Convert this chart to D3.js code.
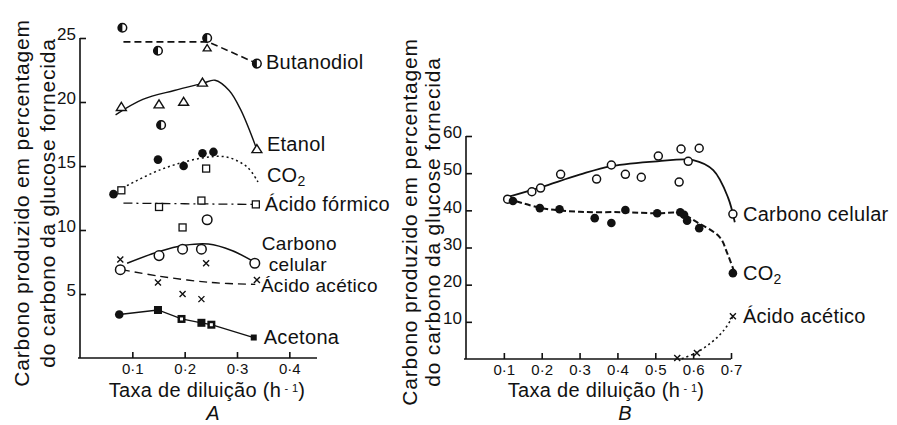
<!DOCTYPE html>
<html>
<head>
<meta charset="utf-8">
<script src="https://cdn.jsdelivr.net/npm/d3@7"></script>
<style>
  body { margin: 0; background: #fff; }
  svg { display: block; }
  text { font-family: "Liberation Sans", Arial, sans-serif; fill: #111; }
</style>
</head>
<body>
<div id="chart"></div>
<script>
// ---- Panel A : points ----
const aButX = [0.081, 0.149, 0.155, 0.243, 0.338];
const aButY = [25.8, 24.0, 18.2, 25.0, 23.0];
const aEtaX = [0.079, 0.151, 0.198, 0.234, 0.243, 0.338];
const aEtaY = [19.6, 19.8, 20.0, 21.5, 24.2, 16.3];
const aCo2X = [0.064, 0.149, 0.198, 0.234, 0.255];
const aCo2Y = [12.8, 15.5, 15.0, 16.0, 16.1];
const aForX = [0.079, 0.151, 0.196, 0.232, 0.241, 0.336];
const aForY = [13.1, 11.8, 10.2, 12.3, 14.8, 12.0];
const aCelX = [0.077, 0.151, 0.196, 0.232, 0.243, 0.334];
const aCelY = [6.9, 8.0, 8.5, 8.5, 10.8, 7.4];
const aAceX = [0.077, 0.149, 0.196, 0.232, 0.241, 0.338];
const aAceY = [7.7, 5.9, 5.0, 4.6, 7.4, 6.1];
const aAcnX = [0.075, 0.149, 0.194, 0.232, 0.251, 0.332];
const aAcnY = [3.4, 3.75, 3.05, 2.75, 2.6, 1.6];
const aAcnShape = ["circle", "square", "squareDot", "square", "squareDot", "squareSmall"];

// hand drawn fitted curves (panel A)
const aButCurve = [[0.083, 24.7], [0.245, 24.7], [0.333, 23.1]];
const aEtaCurve = [[0.068, 19.0], [0.12, 20.2], [0.18, 20.9], [0.234, 21.45], [0.258, 21.7], [0.285, 20.9], [0.307, 19.4], [0.336, 16.5]];
const aCo2Curve = [[0.073, 13.1], [0.153, 14.7], [0.23, 15.6], [0.28, 15.7], [0.32, 14.9], [0.34, 13.75]];
const aForCurve = [[0.083, 12.1], [0.2, 12.05], [0.336, 12.0]];
const aCelCurve = [[0.09, 7.4], [0.15, 8.3], [0.2, 8.8], [0.245, 8.9], [0.29, 8.4], [0.333, 7.5]];
const aAceCurve = [[0.08, 6.9], [0.15, 6.4], [0.25, 5.9], [0.335, 5.75]];

// ---- Panel B ----
const bCelX = [0.11, 0.174, 0.197, 0.25, 0.345, 0.384, 0.421, 0.463, 0.508, 0.563, 0.568, 0.587, 0.616, 0.705];
const bCelY = [43.0, 45.0, 46.0, 49.7, 48.4, 52.2, 49.7, 48.9, 54.6, 47.6, 56.5, 53.2, 56.7, 39.0];
const bCo2X = [0.124, 0.195, 0.247, 0.34, 0.384, 0.421, 0.505, 0.566, 0.576, 0.584, 0.616, 0.705];
const bCo2Y = [42.5, 40.6, 40.3, 37.9, 36.6, 40.1, 39.2, 39.5, 38.8, 37.2, 35.2, 23.1];
const bAceX = [0.558, 0.61, 0.705];
const bAceY = [0.3, 1.6, 11.5];

const bCelCurve = [[0.11, 43.6], [0.197, 46.2], [0.3, 49.6], [0.384, 51.9], [0.505, 53.2], [0.6, 53.5], [0.653, 50.8], [0.692, 43.5], [0.71, 36.8]];
const bCo2Curve = [[0.11, 43.2], [0.2, 40.6], [0.3, 39.6], [0.416, 39.5], [0.503, 39.2], [0.566, 39.2], [0.61, 36.8], [0.67, 32.8], [0.69, 28.5], [0.707, 23.9]];
const bAceCurve = [[0.57, 0.1], [0.61, 1.8], [0.65, 4.6], [0.68, 7.6], [0.705, 11.4]];

const aTicksX = [0.1, 0.2, 0.3, 0.4];
const aTicksY = [5, 10, 15, 20, 25];
const bTicksX = [0.1, 0.2, 0.3, 0.4, 0.5, 0.6, 0.7];
const bTicksY = [10, 20, 30, 40, 50, 60];

const W = 897, H = 425;
const svg = d3.select("#chart").append("svg").attr("width", W).attr("height", H);

const xA = d3.scaleLinear().domain([0, 0.45]).range([80, 315.5]);
const yA = d3.scaleLinear().domain([0, 25]).range([358, 38]);
const xB = d3.scaleLinear().domain([0, 0.7]).range([466, 731]);
const yB = d3.scaleLinear().domain([0, 60]).range([359, 136]);

const fmtX = d => d3.format(".1f")(d).replace(".", "·");

function drawAxes(x, y, xt, yt, xEnd) {
  const gx = svg.append("g").attr("transform", `translate(0,${y(0)})`)
    .call(d3.axisBottom(x).tickValues(xt).tickFormat(fmtX).tickSize(-6).tickSizeOuter(0).tickPadding(5));
  gx.select(".domain").attr("d", `M${x.range()[0] - 2},0H${xEnd}`);
  const gy = svg.append("g").attr("transform", `translate(${x(0)},0)`)
    .call(d3.axisLeft(y).tickValues(yt).tickSize(-6).tickSizeOuter(0).tickPadding(4));
  gy.select(".domain").attr("d", `M0,${y(0)}V${y.range()[1]}`);
  [gx, gy].forEach(g => {
    g.selectAll("path, line").attr("stroke", "#111").attr("stroke-width", 1.6);
    g.selectAll("text").attr("fill", "#111")
      .attr("font-family", "'Liberation Sans', Arial, sans-serif");
  });
  gx.selectAll("text").attr("font-size", 15);
  gy.selectAll("text").attr("font-size", 17).attr("dy", "0.1em");
}
drawAxes(xA, yA, aTicksX, aTicksY, 317);
drawAxes(xB, yB, bTicksX, bTicksY, 731);

// markers
function marker(g, px, py, kind, r) {
  r = r || 4.3;
  if (kind === "filled") {
    g.append("circle").attr("cx", px).attr("cy", py).attr("r", r).attr("fill", "#111");
  } else if (kind === "open") {
    g.append("circle").attr("cx", px).attr("cy", py).attr("r", r).attr("fill", "#fff")
      .attr("stroke", "#111").attr("stroke-width", 1.5);
  } else if (kind === "half") {
    g.append("circle").attr("cx", px).attr("cy", py).attr("r", r).attr("fill", "#fff")
      .attr("stroke", "#111").attr("stroke-width", 1.5);
    g.append("path").attr("d", `M${px},${py - r}A${r},${r} 0 0 0 ${px},${py + r}Z`).attr("fill", "#111");
  } else if (kind === "tri") {
    const s = r * 1.1;
    g.append("path").attr("d", `M${px},${py - s}L${px + s * 1.05},${py + s * 0.7}L${px - s * 1.05},${py + s * 0.7}Z`)
      .attr("fill", "#fff").attr("stroke", "#111").attr("stroke-width", 1.4);
  } else if (kind === "osquare") {
    g.append("rect").attr("x", px - 3.5).attr("y", py - 3.5).attr("width", 7).attr("height", 7)
      .attr("fill", "#fff").attr("stroke", "#111").attr("stroke-width", 1.3);
  } else if (kind === "cross") {
    g.append("path").attr("d", `M${px - 3},${py - 3}L${px + 3},${py + 3}M${px + 3},${py - 3}L${px - 3},${py + 3}`)
      .attr("stroke", "#111").attr("stroke-width", 1.4);
  } else if (kind === "circle") {
    g.append("circle").attr("cx", px).attr("cy", py).attr("r", 4.3).attr("fill", "#111");
  } else if (kind === "square" || kind === "squareDot" || kind === "squareSmall") {
    const s = kind === "squareSmall" ? 6 : 8;
    g.append("rect").attr("x", px - s / 2).attr("y", py - s / 2).attr("width", s).attr("height", s).attr("fill", "#111");
    if (kind === "squareDot") {
      g.append("rect").attr("x", px - 1.5).attr("y", py - 1.5).attr("width", 3).attr("height", 3).attr("fill", "#fff");
    }
  }
}

function curve(data, x, y, dash, width, interp) {
  const line = d3.line().x(d => x(d[0])).y(d => y(d[1])).curve(interp || d3.curveCatmullRom);
  svg.append("path").attr("d", line(data)).attr("fill", "none").attr("stroke", "#111")
    .attr("stroke-width", width || 1.4).attr("stroke-dasharray", dash || null);
}

// panel A lines
curve(aButCurve, xA, yA, "7,4", 1.6, d3.curveLinear);
curve(aEtaCurve, xA, yA, null, 1.4);
curve(aCo2Curve, xA, yA, "2,3", 1.5);
curve(aForCurve, xA, yA, "9,4,2,4", 1.3, d3.curveLinear);
curve(aCelCurve, xA, yA, null, 1.5);
curve(aAceCurve, xA, yA, "8,5", 1.4);
curve(aAcnX.map((v, i) => [v, aAcnY[i]]), xA, yA, null, 1.3, d3.curveLinear);

// panel B lines
curve(bCelCurve, xB, yB, null, 1.8);
curve(bCo2Curve, xB, yB, "6,3", 2);
curve(bAceCurve, xB, yB, "2,3", 1.6);

const gm = svg.append("g");
aButX.forEach((v, i) => marker(gm, xA(v), yA(aButY[i]), "half"));
aEtaX.forEach((v, i) => marker(gm, xA(v), yA(aEtaY[i]), "tri", i === 4 ? 3.4 : 4.3));
aCo2X.forEach((v, i) => marker(gm, xA(v), yA(aCo2Y[i]), "filled"));
aForX.forEach((v, i) => marker(gm, xA(v), yA(aForY[i]), "osquare"));
aCelX.forEach((v, i) => marker(gm, xA(v), yA(aCelY[i]), "open", 4.8));
aAceX.forEach((v, i) => marker(gm, xA(v), yA(aAceY[i]), "cross"));
aAcnX.forEach((v, i) => marker(gm, xA(v), yA(aAcnY[i]), aAcnShape[i]));
bCelX.forEach((v, i) => marker(gm, xB(v), yB(bCelY[i]), "open", 4));
bCo2X.forEach((v, i) => marker(gm, xB(v), yB(bCo2Y[i]), "filled", 4.3));
bAceX.forEach((v, i) => marker(gm, xB(v), yB(bAceY[i]), "cross"));

// series labels
function label(px, py, txt, sub, size) {
  const t = svg.append("text").attr("x", px).attr("y", py).attr("font-size", size || 20)
    .attr("letter-spacing", 0.3).attr("dominant-baseline", "central").text(txt);
  if (sub) t.append("tspan").attr("font-size", 14).attr("dy", 6).text(sub);
}
label(xA(0.338) + 9, yA(23.0) - 2, "Butanodiol");
label(xA(0.338) + 10, yA(16.3) - 5, "Etanol");
label(xA(0.338) + 10, yA(13.75) - 7, "CO", "2");
label(xA(0.336) + 9, yA(12.0), "Ácido fórmico");
label(xA(0.334) + 7, yA(7.4) - 20, "Carbono", null, 19);
label(xA(0.334) + 14, yA(7.4) + 1, "celular", null, 19);
label(xA(0.338) + 4, yA(6.1) + 6, "Ácido acético", null, 19);
label(xA(0.332) + 10, yA(1.6) - 1, "Acetona");

label(xB(0.705) + 10, yB(39.0), "Carbono celular");
label(xB(0.705) + 10, yB(23.1), "CO", "2");
label(xB(0.705) + 10, yB(11.5), "Ácido acético");

// axis titles
function yTitle(cx1, cx2, cy) {
  [["Carbono produzido em percentagem", cx1], ["do carbono da glucose fornecida", cx2]].forEach(([s, cx]) => {
    svg.append("text").attr("transform", `translate(${cx},${cy}) rotate(-90)`)
      .attr("text-anchor", "middle").attr("dominant-baseline", "central")
      .attr("font-size", 21).attr("letter-spacing", 0.8).text(s);
  });
}
yTitle(21, 47, 203);
yTitle(409, 432, 222);

function xTitle(cx, by, letter, lx, ly) {
  const t = svg.append("text").attr("x", cx).attr("y", by).attr("text-anchor", "middle")
    .attr("font-size", 20).attr("letter-spacing", 0.3).text("Taxa de diluição (h");
  t.append("tspan").attr("font-size", 11).attr("dy", -5).text(" - 1");
  t.append("tspan").attr("dy", 5).text(")");
  svg.append("text").attr("x", lx).attr("y", ly).attr("text-anchor", "middle")
    .attr("font-size", 20).attr("font-style", "italic")
    .attr("font-family", "'Liberation Serif', 'Times New Roman', serif").text(letter);
}
xTitle(207, 397, "A", 213, 420);
xTitle(606, 397, "B", 625, 420);
</script>
</body>
</html>
